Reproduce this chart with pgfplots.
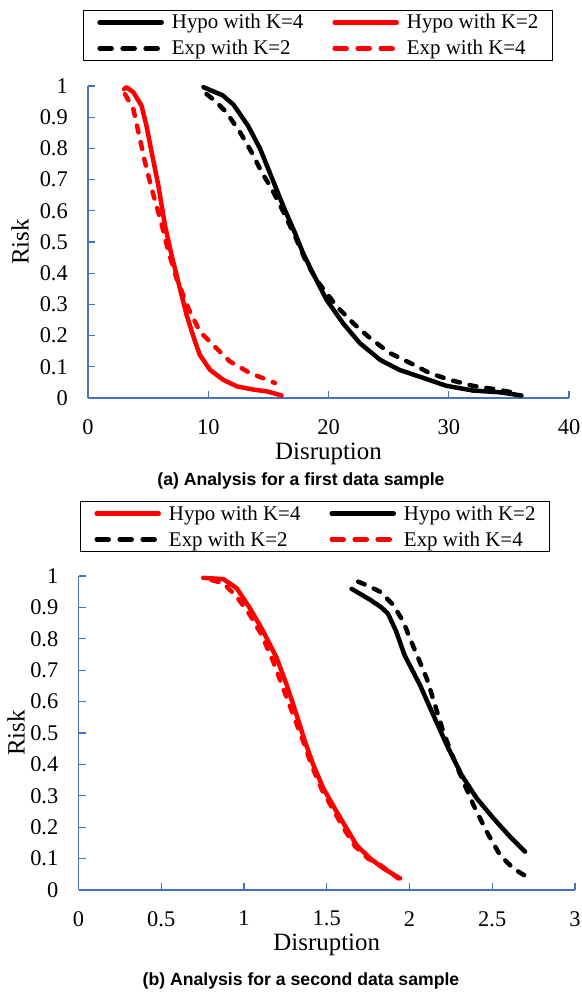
\documentclass[border=0pt]{standalone}
\usepackage{pgfplots}
\pgfplotsset{compat=1.18}
\usepackage{fontspec}
\setmainfont{Liberation Serif}
\newfontfamily\capfont{Liberation Sans}
\definecolor{axblue}{HTML}{4472C4}
\pgfplotsset{
  hypo/.style={line width=4.5bp, solid, line join=round, line cap=round},
  expd/.style={line width=4.5bp, line join=round, line cap=round, dash pattern=on 7bp off 10bp,
     legend image code/.code={\draw[##1, dash pattern=on 12bp off 11bp] (0bp,0bp) -- (62bp,0bp);}},
  riskaxis/.style={
    scale only axis,
    axis lines=left,
    axis line style={axblue, line width=1.3bp, -},
    tick style={axblue, line width=1.3bp},
    tick align=inside,
    major tick length=7bp,
    ymin=0, ymax=1, ytick={0,0.1,0.2,0.3,0.4,0.5,0.6,0.7,0.8,0.9,1},
    /pgf/number format/assume math mode=true,
    /pgf/number format/fixed,
    /pgf/number format/precision=1,
    tick label style={font=\fontsize{22.5}{26}\selectfont, inner sep=0bp},
    xticklabel style={yshift=-21bp},
    yticklabel style={xshift=-20bp},
    label style={font=\fontsize{25}{30}\selectfont},
    xlabel={Disruption}, ylabel={Risk},
    legend columns=2,
    legend cell align=left,
    legend image code/.code={\draw[##1] (0bp,0bp) -- (62bp,0bp);},
    legend style={draw=black, line width=0.8bp, font=\fontsize{21}{25}\selectfont, anchor=center,
      inner xsep=14bp, inner ysep=4bp, row sep=10bp, nodes={inner sep=0bp},
      /tikz/column 1/.style={column sep=8bp}, /tikz/column 2/.style={column sep=29bp},
      /tikz/column 3/.style={column sep=8bp}},
  },
}
\begin{document}
\begin{tikzpicture}[x=1bp,y=1bp]
\useasboundingbox (0,0) rectangle (582,992);
% ---------------- (a) ----------------
\begin{axis}[riskaxis, at={(88bp,594bp)}, anchor=south west, width=481bp, height=312bp,
  xmin=0, xmax=40, xtick={0,10,20,30,40},
  xlabel style={at={(axis description cs:0.5,-0.18)}, anchor=center},
  ylabel style={at={(axis description cs:-0.1414,0.5)}, anchor=center},
  legend style={at={(0.478,1.162)}}]
\addplot[hypo, black] coordinates {(9.6,0.996) (11.2,0.97) (12.1,0.94) (13.3,0.873) (14.3,0.80) (15.4,0.695) (16.4,0.60) (17.2,0.53) (17.9,0.463) (18.7,0.40) (19.85,0.314) (21.2,0.24) (22.6,0.176) (24.3,0.122) (25.9,0.09) (27.9,0.064) (29.8,0.039) (32.0,0.024) (34.3,0.018) (36.05,0.008)};
\addlegendentry{Hypo with K=4}
\addplot[hypo, red] coordinates {(3.0,0.99) (3.2,0.996) (3.77,0.98) (4.45,0.937) (4.86,0.873) (5.29,0.788) (5.85,0.681) (6.4,0.553) (6.95,0.458) (7.5,0.373) (8.2,0.266) (8.9,0.181) (9.3,0.138) (10.15,0.09) (11.25,0.058) (12.4,0.037) (13.75,0.027) (14.9,0.021) (16.1,0.008)};
\addlegendentry{Hypo with K=2}
\addplot[expd, black] coordinates {(9.86,0.974) (10.55,0.953) (11.5,0.916) (12.64,0.852) (13.6,0.788) (14.44,0.724) (15.27,0.671) (16.2,0.6) (17.2,0.52) (18.1,0.44) (19.0,0.378) (20.7,0.293) (22.05,0.24) (23.45,0.192) (25.1,0.144) (26.8,0.112) (28.4,0.08) (30.1,0.058) (32.0,0.039) (34.0,0.027) (35.9,0.014)};
\addlegendentry{Exp with K=2}
\addplot[expd, red] coordinates {(3.08,0.974) (3.77,0.926) (4.32,0.83) (4.74,0.756) (5.29,0.671) (6.0,0.575) (6.7,0.468) (7.37,0.383) (8.34,0.288) (9.3,0.213) (10.4,0.17) (11.8,0.117) (13.47,0.08) (15.55,0.048)};
\addlegendentry{Exp with K=4}
\end{axis}
\node[font=\fontsize{17.7}{20}\selectfont\capfont\bfseries] at (301,511) {(a) Analysis for a first data sample};
% ---------------- (b) ----------------
\begin{axis}[riskaxis, at={(78.5bp,102bp)}, anchor=south west, width=496.5bp, height=314bp,
  xmin=0, xmax=3, xtick={0,0.5,1,1.5,2,2.5,3},
  xlabel style={at={(axis description cs:0.5,-0.174)}, anchor=center},
  ylabel style={at={(axis description cs:-0.1259,0.5)}, anchor=center},
  legend style={at={(0.4763,1.1576)}}]
\addplot[hypo, red] coordinates {(0.754,0.994) (0.875,0.99) (0.956,0.961) (1.036,0.897) (1.117,0.823) (1.198,0.738) (1.258,0.653) (1.318,0.557) (1.369,0.472) (1.419,0.398) (1.479,0.324) (1.56,0.249) (1.62,0.196) (1.68,0.143) (1.761,0.101) (1.842,0.069) (1.943,0.037)};
\addlegendentry{Hypo with K=4}
\addplot[hypo, black] coordinates {(1.65,0.959) (1.76,0.925) (1.83,0.9) (1.87,0.88) (1.92,0.823) (1.97,0.748) (2.063,0.653) (2.144,0.557) (2.225,0.462) (2.315,0.366) (2.406,0.292) (2.506,0.229) (2.607,0.17) (2.698,0.122)};
\addlegendentry{Hypo with K=2}
\addplot[expd, black] coordinates {(1.69,0.982) (1.76,0.966) (1.822,0.95) (1.902,0.908) (1.963,0.854) (2.003,0.801) (2.053,0.738) (2.104,0.674) (2.154,0.589) (2.204,0.504) (2.265,0.42) (2.325,0.345) (2.386,0.271) (2.466,0.186) (2.547,0.111) (2.627,0.069) (2.738,0.032)};
\addlegendentry{Exp with K=2}
\addplot[expd, red] coordinates {(0.805,0.987) (0.875,0.977) (0.956,0.934) (1.036,0.876) (1.107,0.812) (1.177,0.727) (1.237,0.642) (1.298,0.557) (1.36,0.47) (1.41,0.395) (1.47,0.32) (1.55,0.245) (1.61,0.19) (1.67,0.14) (1.75,0.1) (1.822,0.08) (1.932,0.037)};
\addlegendentry{Exp with K=4}
\end{axis}
\node[font=\fontsize{17.7}{20}\selectfont\capfont\bfseries] at (301,11) {(b) Analysis for a second data sample};
\end{tikzpicture}
\end{document}
